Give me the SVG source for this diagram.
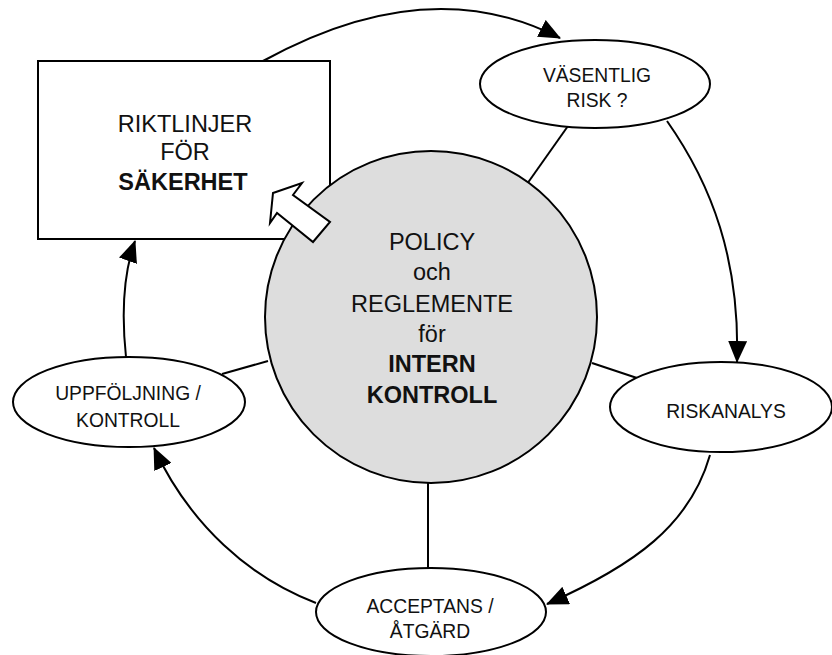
<svg xmlns="http://www.w3.org/2000/svg" width="832" height="655" viewBox="0 0 832 655">
<defs>
<marker id="ah" viewBox="0 0 22 19" refX="21" refY="9.5" markerWidth="22" markerHeight="19" markerUnits="userSpaceOnUse" orient="auto">
<path d="M0,0 L22,9.5 L0,19 z" fill="#000"/>
</marker>
<style>
.ln{fill:none;stroke:#000;stroke-width:2}
.arr{fill:none;stroke:#000;stroke-width:2;marker-end:url(#ah)}
.node{fill:#fff;stroke:#000;stroke-width:2}
.t{font-family:"Liberation Sans",Arial,sans-serif;fill:#111;text-anchor:middle}
.big{font-size:23.5px}
.sm{font-size:19.3px}
.b{font-weight:bold}
</style>
</defs>
<rect width="832" height="655" fill="#fff"/>
<g id="connectors">
<line class="ln" x1="527" y1="184" x2="568" y2="126"/>
<line class="ln" x1="592" y1="363" x2="637" y2="378"/>
<line class="ln" x1="428" y1="483" x2="428" y2="568"/>
<line class="ln" x1="268" y1="361" x2="222" y2="374"/>
</g>
<g id="rikt">
<rect class="node" x="38" y="61" width="292" height="178"/>
<text class="t big" x="185" y="132">RIKTLINJER</text>
<text class="t big" x="185" y="160">FÖR</text>
<text class="t big b" x="183" y="190">SÄKERHET</text>
</g>
<g id="vasentlig">
<ellipse class="node" cx="595" cy="84" rx="115" ry="44"/>
<text class="t sm" x="597" y="82">VÄSENTLIG</text>
<text class="t sm" x="597" y="107">RISK ?</text>
</g>
<g id="riskanalys">
<ellipse class="node" cx="721" cy="407" rx="111" ry="45"/>
<text class="t sm" x="726" y="418">RISKANALYS</text>
</g>
<g id="acceptans">
<ellipse class="node" cx="431" cy="612" rx="115" ry="44"/>
<text class="t sm" x="430" y="613">ACCEPTANS /</text>
<text class="t sm" x="430" y="638">ÅTGÄRD</text>
</g>
<g id="uppfoljning">
<ellipse class="node" cx="129" cy="402" rx="116" ry="45"/>
<text class="t sm" x="128" y="400">UPPFÖLJNING /</text>
<text class="t sm" x="128" y="427">KONTROLL</text>
</g>
<g id="policy">
<circle cx="431" cy="317" r="166" fill="#dddddd" stroke="#000" stroke-width="2"/>
<text class="t big" x="432" y="250">POLICY</text>
<text class="t big" x="432" y="280">och</text>
<text class="t big" x="432" y="312">REGLEMENTE</text>
<text class="t big" x="432" y="342">för</text>
<text class="t big b" x="432" y="372">INTERN</text>
<text class="t big b" x="432" y="403">KONTROLL</text>
</g>
<g id="blockarrow">
<polygon points="273,193 302,183 293,195 330,222 313,242 277,213 270,223" fill="#fff" stroke="#000" stroke-width="2" stroke-linejoin="miter"/>
</g>
<g id="arrows">
<path class="arr" d="M263,61 Q428,-30 560,38"/>
<path class="arr" d="M667,121 C712,185 740,260 737,362"/>
<path class="arr" d="M710,455 C690,525 635,565 547,604"/>
<path class="arr" d="M316,603 C250,578 190,525 154,448"/>
<path class="arr" d="M126,357 C121,310 124,272 135,241"/>
</g>
</svg>
